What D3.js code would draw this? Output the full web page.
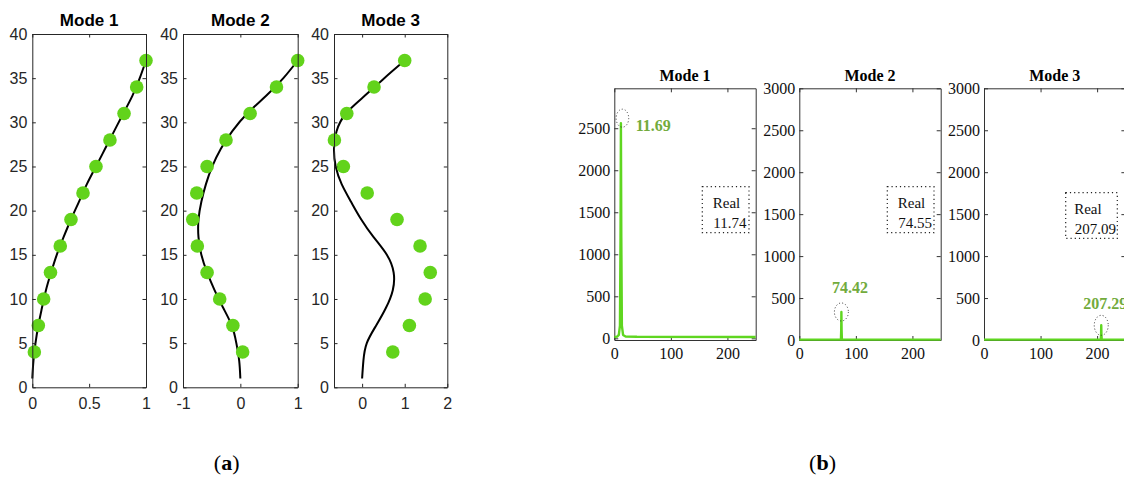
<!DOCTYPE html>
<html><head><meta charset="utf-8">
<script src="https://cdn.jsdelivr.net/npm/d3@7"></script>
<style>body{margin:0;background:#fff}svg{display:block}</style>
</head><body>
<svg id="c" width="1124" height="479"></svg>
<script>
// ---------- data (a): mode shapes ----------
const modeTitles = ["Mode 1", "Mode 2", "Mode 3"];
const floorHeights = [4, 7, 10, 13, 16, 19, 22, 25, 28, 31, 34, 37];
const mode1Identified = [0.018, 0.053, 0.10, 0.16, 0.246, 0.34, 0.446, 0.56, 0.683, 0.807, 0.918, 1.0];
const mode2Identified = [0.04, -0.13, -0.36, -0.58, -0.75, -0.83, -0.76, -0.58, -0.25, 0.17, 0.63, 1.0];
const mode3Identified = [0.72, 1.11, 1.48, 1.60, 1.36, 0.82, 0.12, -0.44, -0.65, -0.36, 0.28, 1.0];
const curveHeights = [1, 3, 5, 7, 9, 11, 13, 15, 17, 19, 21, 23, 25, 27, 29, 31, 33, 35, 37];
const mode1Theory = [0, 0.01, 0.028, 0.053, 0.085, 0.12, 0.165, 0.215, 0.275, 0.34, 0.41, 0.48, 0.56, 0.64, 0.72, 0.80, 0.88, 0.945, 1.0];
const mode2Theory = [0, -0.02, -0.07, -0.15, -0.30, -0.45, -0.58, -0.68, -0.73, -0.73, -0.68, -0.60, -0.49, -0.34, -0.14, 0.12, 0.45, 0.75, 1.0];
const mode3Theory = [0, 0.03, 0.11, 0.33, 0.56, 0.72, 0.74, 0.58, 0.27, -0.02, -0.26, -0.48, -0.62, -0.66, -0.60, -0.38, 0.06, 0.52, 1.0];
const shapeXDomains = [[0, 1], [-1, 1], [-0.66, 2]];
const shapeXTicks = [[0, 0.5, 1], [-1, 0, 1], [0, 1, 2]];
const shapeXLabels = [["0", "0.5", "1"], ["-1", "0", "1"], ["0", "1", "2"]];
const shapeYTicks = [0, 5, 10, 15, 20, 25, 30, 35, 40];

// ---------- data (b): spectra ----------
const spec1Freq = [0, 5, 8, 10, 11, 11.69, 12.4, 13.4, 15.5, 20, 40, 250];
const spec1Amp  = [15, 20, 40, 150, 1200, 2560, 1200, 150, 40, 22, 18, 15];
const spec2Freq = [0, 73.6, 74.1, 74.42, 74.8, 75.3, 250];
const spec2Amp  = [4, 4, 120, 334, 120, 4, 4];
const spec3Freq = [0, 206.5, 207, 207.29, 207.6, 208.1, 250];
const spec3Amp  = [4, 4, 70, 175, 70, 4, 4];
const identifiedFreq = ["11.69", "74.42", "207.29"];
const realFreq = ["11.74", "74.55", "207.09"];
const specXTicks = [0, 100, 200];
const specYTicks1 = [0, 500, 1000, 1500, 2000, 2500];
const specYTicks = [0, 500, 1000, 1500, 2000, 2500, 3000];

const svg = d3.select("#c");
const axisCol = "#262626";
const dotCol = "#62d31b";
const specCol = "#5fd620";
const labCol = "#72ab3c";

// ---------- (a) ----------
const aPanels = [
  {x0: 32.3, x1: 146, ident: mode1Identified, theory: mode1Theory},
  {x0: 183, x1: 297.7, ident: mode2Identified, theory: mode2Theory},
  {x0: 334, x1: 447.3, ident: mode3Identified, theory: mode3Theory}
];
const aTop = 34, aBot = 387.3;
aPanels.forEach((p, i) => {
  const x = d3.scaleLinear().domain(shapeXDomains[i]).range([p.x0, p.x1]);
  const y = d3.scaleLinear().domain([0, 40]).range([aBot, aTop]);
  const g = svg.append("g");
  const line = d3.line().x(d => x(d[0])).y(d => y(d[1])).curve(d3.curveNatural);
  g.append("path").datum(p.theory.map((v, k) => [v, curveHeights[k]]))
    .attr("d", line).attr("fill", "none").attr("stroke", "#000").attr("stroke-width", 2);
  g.selectAll("circle.pt").data(p.ident).enter().append("circle")
    .attr("cx", d => x(d)).attr("cy", (d, k) => y(floorHeights[k])).attr("r", 6.8).attr("fill", dotCol);
  const fontA = "Liberation Sans, Arial, sans-serif";
  const ax = g.append("g").attr("transform", `translate(0,${aBot})`)
    .call(d3.axisBottom(x).tickValues(shapeXTicks[i]).tickSizeInner(-3.5).tickSizeOuter(0).tickPadding(10)
      .tickFormat((d, k) => shapeXLabels[i][k]));
  const axT = g.append("g").attr("transform", `translate(0,${aTop})`)
    .call(d3.axisTop(x).tickValues(shapeXTicks[i]).tickSizeInner(-3.5).tickSizeOuter(0).tickFormat(""));
  const ay = g.append("g").attr("transform", `translate(${p.x0},0)`)
    .call(d3.axisLeft(y).tickValues(shapeYTicks).tickSizeInner(-3.5).tickSizeOuter(0).tickPadding(5));
  const ayR = g.append("g").attr("transform", `translate(${p.x1},0)`)
    .call(d3.axisRight(y).tickValues(shapeYTicks).tickSizeInner(-3.5).tickSizeOuter(0).tickFormat(""));
  [ax, axT, ay, ayR].forEach(a => {
    a.select(".domain").attr("stroke", axisCol).attr("stroke-width", 1);
    a.selectAll(".tick line").attr("stroke", axisCol);
    a.selectAll("text").attr("font-family", fontA).attr("font-size", 16).attr("fill", axisCol);
  });
  ax.selectAll("text").attr("dy", "0.71em");
  g.append("text").attr("x", (p.x0 + p.x1) / 2).attr("y", 26).attr("text-anchor", "middle")
    .attr("font-family", fontA).attr("font-weight", "bold").attr("font-size", 17).attr("fill", "#000")
    .text(modeTitles[i]);
});

// ---------- (b) ----------
const bPanels = [
  {x0: 614.3, freq: spec1Freq, amp: spec1Amp, ydom: [-20, 2975], yt: specYTicks1,
   ell: [11.69, 2560, 6.3, 9, 1.5, -5], lab: [635.7, 131, "start"], box: [702.3, 186.7, 46.7, 46, 10.5]},
  {x0: 799.3, freq: spec2Freq, amp: spec2Amp, ydom: [0, 3000], yt: specYTicks,
   ell: [74.42, 334, 7, 9, 0, 0], lab: [850, 293.3, "middle"], box: [887.3, 186.7, 46.7, 46, 10.5]},
  {x0: 984, freq: spec3Freq, amp: spec3Amp, ydom: [0, 3000], yt: specYTicks,
   ell: [207.29, 175, 7, 10, 0, 0], lab: [1083.3, 309.3, "start"], box: [1065.7, 192.7, 51.6, 45.6, 8.5]}
];
const bTop = 88.3, bBot = 340, bW = 141.4;
const fontB = "Liberation Serif, Times New Roman, serif";
bPanels.forEach((p, i) => {
  const x = d3.scaleLinear().domain([0, 250]).range([p.x0, p.x0 + bW]);
  const y = d3.scaleLinear().domain(p.ydom).range([bBot, bTop]);
  const g = svg.append("g");
  const ax = g.append("g").attr("transform", `translate(0,${bBot})`)
    .call(d3.axisBottom(x).tickValues(specXTicks).tickSizeInner(-4).tickSizeOuter(0).tickPadding(8).tickFormat(d3.format("d")));
  const axT = g.append("g").attr("transform", `translate(0,${bTop})`)
    .call(d3.axisTop(x).tickValues(specXTicks).tickSizeInner(-4).tickSizeOuter(0).tickFormat(""));
  const ay = g.append("g").attr("transform", `translate(${p.x0},0)`)
    .call(d3.axisLeft(y).tickValues(p.yt).tickSizeInner(-4).tickSizeOuter(0).tickPadding(4).tickFormat(d3.format("d")));
  const ayR = g.append("g").attr("transform", `translate(${p.x0 + bW},0)`)
    .call(d3.axisRight(y).tickValues(p.yt).tickSizeInner(-4).tickSizeOuter(0).tickFormat(""));
  [ax, axT, ay, ayR].forEach(a => {
    a.select(".domain").attr("stroke", "#333").attr("stroke-width", 1);
    a.selectAll(".tick line").attr("stroke", "#333");
    a.selectAll("text").attr("font-family", fontB).attr("font-size", 16).attr("fill", "#111");
  });
  ax.selectAll("text").attr("dy", "0.71em");
  g.append("text").attr("x", p.x0 + bW / 2).attr("y", 80.7).attr("text-anchor", "middle")
    .attr("font-family", fontB).attr("font-weight", "bold").attr("font-size", 16).attr("fill", "#000")
    .text(modeTitles[i]);
  const line = d3.line().x(d => x(d[0])).y(d => y(d[1]));
  g.append("path").datum(p.freq.map((f, k) => [f, p.amp[k]]))
    .attr("d", line).attr("fill", "none").attr("stroke", specCol).attr("stroke-width", 2.4)
    .attr("stroke-linejoin", "round");
  const e = p.ell;
  g.append("ellipse").attr("cx", x(e[0]) + e[4]).attr("cy", y(e[1]) + e[5])
    .attr("rx", e[2]).attr("ry", e[3]).attr("fill", "none").attr("stroke", "#333")
    .attr("stroke-width", 1).attr("stroke-dasharray", "1,2.2");
  g.append("text").attr("x", p.lab[0]).attr("y", p.lab[1]).attr("text-anchor", p.lab[2])
    .attr("font-family", fontB).attr("font-weight", "bold").attr("font-size", 16).attr("fill", labCol)
    .text(identifiedFreq[i]);
  const b = p.box;
  g.append("rect").attr("x", b[0]).attr("y", b[1]).attr("width", b[2]).attr("height", b[3])
    .attr("fill", "none").attr("stroke", "#222").attr("stroke-width", 1.2).attr("stroke-dasharray", "1.2,3");
  g.append("text").attr("x", b[0] + b[4]).attr("y", b[1] + 21.6).attr("font-family", fontB)
    .attr("font-size", 15).attr("fill", "#111").text("Real");
  g.append("text").attr("x", b[0] + b[4] + 0.5).attr("y", b[1] + 41).attr("font-family", fontB)
    .attr("font-size", 15).attr("fill", "#111").text(realFreq[i]);
});

// captions
const capFont = "Palatino Linotype, Book Antiqua, Liberation Serif, serif";
[["a", 226.7], ["b", 822.5]].forEach(([c, cx]) => {
  const t = svg.append("text").attr("x", cx).attr("y", 470).attr("text-anchor", "middle")
    .attr("font-family", capFont).attr("font-size", 22).attr("fill", "#000");
  t.append("tspan").text("(");
  t.append("tspan").attr("font-weight", "bold").text(c);
  t.append("tspan").text(")");
});
</script>
</body></html>
